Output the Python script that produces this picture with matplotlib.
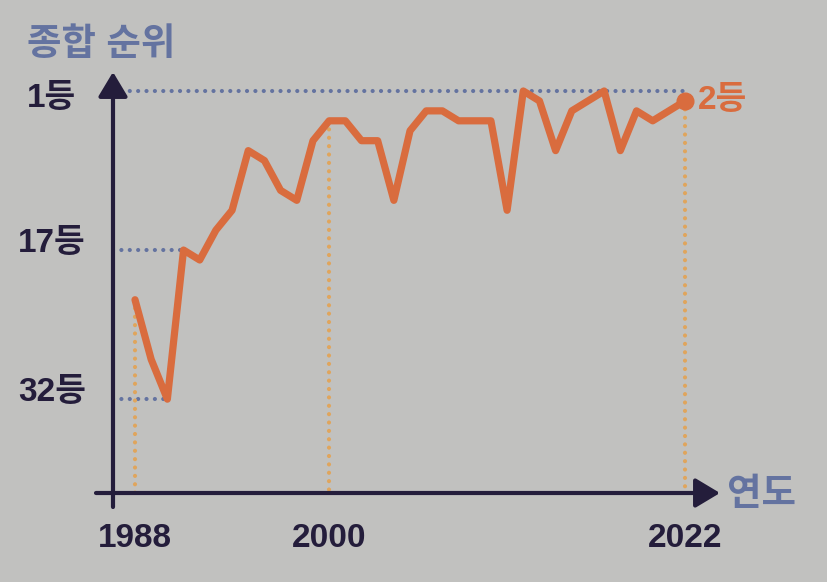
import matplotlib
matplotlib.use('Agg')
import matplotlib.pyplot as plt

# 종합 순위 by year
years = list(range(1988, 2023))
ranks = [22, 28, 32, 17, 18, 15, 13, 7, 8, 11, 12, 6, 4, 4, 6, 6, 12, 5, 3, 3,
         4, 4, 4, 13, 1, 2, 7, 3, 2, 1, 7, 3, 4, 3, 2]

ytick_ranks = [1, 17, 32]
ytick_labels = ['1등', '17등', '32등']
xtick_years = [1988, 2000, 2022]

BG = '#c1c1bf'
NAVY = '#241d3b'
SLATE = '#6473a0'
ORANGE = '#d96c3e'
GOLD = '#e0a55c'

FONT = ['Liberation Sans', 'Noto Sans CJK KR']

fig = plt.figure(figsize=(8.28, 5.82), dpi=100, facecolor=BG)
ax = fig.add_axes([113 / 828, 89 / 582, 607 / 828, 421 / 582])
ax.set_facecolor(BG)
ax.set_xlim(1986.64, 2024.16)
ax.set_ylim(41.44, -0.91)
for s in ax.spines.values():
    s.set_visible(False)
ax.set_xticks([])
ax.set_yticks([])

dot = (0, (0.01, 2.0))
x0 = ax.get_xlim()[0]
y0 = ax.get_ylim()[0]

# horizontal guides (rank)
rank_of = dict(zip(years, ranks))
h_end = {1: 2022, 17: 1991, 32: 1990}
for r in ytick_ranks:
    ax.plot([x0, h_end[r]], [r, r], color=SLATE, lw=3, linestyle=dot,
            dash_capstyle='round', zorder=1, clip_on=False)

# vertical guides (year)
for yr in xtick_years:
    ax.plot([yr, yr], [rank_of[yr], y0], color=GOLD, lw=3, linestyle=dot,
            dash_capstyle='round', zorder=1, clip_on=False)

# main line
ax.plot(years, ranks, color=ORANGE, lw=5.2, solid_joinstyle='round',
        solid_capstyle='round', zorder=3)
ax.plot(years[-1], ranks[-1], 'o', color=ORANGE, ms=12, zorder=4)
ax.annotate(f'{ranks[-1]}등', (years[-1], ranks[-1]), xytext=(9, 0),
            textcoords='offset points', va='center', ha='left',
            fontsize=24, fontweight='bold', color=ORANGE, family=FONT)

# axes with arrows
ax.annotate('', xy=(1, 0), xycoords='axes fraction', xytext=(-17 / 607, 0),
            arrowprops=dict(arrowstyle='-|>,head_length=0.75,head_width=0.45',
                            lw=3, color=NAVY, mutation_scale=20,
                            shrinkA=0, shrinkB=0), zorder=5)
ax.annotate('', xy=(0, 1), xycoords='axes fraction', xytext=(0, -14 / 421),
            arrowprops=dict(arrowstyle='-|>,head_length=0.75,head_width=0.45',
                            lw=3, color=NAVY, mutation_scale=20,
                            shrinkA=0, shrinkB=0), zorder=5)

# tick labels
for r, lab in zip(ytick_ranks, ytick_labels):
    off = -5.5 if r == 1 else 5
    ax.annotate(lab, (x0, r), xytext=(-44, off), textcoords='offset points',
                ha='center', va='center', fontsize=24, fontweight='bold',
                color=NAVY, family=FONT, annotation_clip=False)
for yr in xtick_years:
    ax.annotate(str(yr), (yr, y0), xytext=(0, -33), textcoords='offset points',
                ha='center', va='center', fontsize=24, fontweight='bold',
                color=NAVY, family=FONT, annotation_clip=False)

fig.text(27 / 828, 1 - 45 / 582, '종합 순위', ha='left', va='center',
         fontsize=27, fontweight='bold', color=SLATE, family=FONT)
fig.text(727 / 828, 1 - 495 / 582, '연도', ha='left', va='center',
         fontsize=27, fontweight='bold', color=SLATE, family=FONT)

fig.savefig('out.png', dpi=100, facecolor=BG)
